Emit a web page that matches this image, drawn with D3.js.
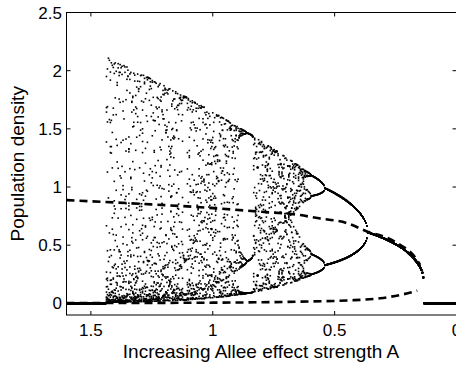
<!DOCTYPE html>
<html>
<head>
<meta charset="utf-8">
<script src="https://cdn.jsdelivr.net/npm/d3@7/dist/d3.min.js"></script>
<style>
  html, body { margin: 0; padding: 0; background: #fff; }
  svg { display: block; }
  text { font-family: "Liberation Sans", Arial, Helvetica, sans-serif; fill: #000; }
</style>
</head>
<body>
<svg id="chart" width="456" height="365"></svg>
<script>
// Axis ticks
const xTicks = [1.5, 1, 0.5, 0];
const yTicks = [0, 0.5, 1, 1.5, 2, 2.5];

// Ricker growth with a mate-finding Allee term:
//   N' = N * exp(r (1 - N)) * N / (N + theta),  theta = alleeScale / A^alleePower
const growthRate = 4.65;
const alleeScale = 1.19;
const alleePower = 0.958;
const aStart = 1.6, aEnd = 0.002, aStep = 0.004;
const transientSteps = 800;
const keptSteps = 13;
const startDensity = 0.4;

// Interior equilibrium (unstable over most of the range)
const upperEqA = [1.6, 1.3, 1.063, 0.8, 0.641, 0.571, 0.45, 0.362, 0.284, 0.231, 0.178, 0.149];
const upperEqN = [0.888, 0.856, 0.828, 0.787, 0.759, 0.733, 0.69, 0.614, 0.563, 0.503, 0.417, 0.33];

// Allee threshold
const thresholdA = [1.6, 1.0, 0.64, 0.45, 0.313, 0.231, 0.161];
const thresholdN = [0.003, 0.006, 0.015, 0.025, 0.044, 0.072, 0.109];

const svg = d3.select("#chart");
const plotLeft = 66.5, plotRight = 456.5, plotTop = 12.5, plotBottom = 315;

const x = d3.scaleLinear().domain([1.6, 0]).range([plotLeft, plotRight]);
const y = d3.scaleLinear().domain([-0.1, 2.5]).range([plotBottom, plotTop]);

// Orbit points for each value of A
const orbit = [];
for (let a = aStart; a >= aEnd; a -= aStep) {
  const theta = alleeScale / Math.pow(a, alleePower);
  let n = startDensity;
  const step = v => v * Math.exp(growthRate * (1 - v)) * v / (v + theta);
  for (let i = 0; i < transientSteps; i++) n = step(n);
  for (let i = 0; i < keptSteps; i++) {
    n = step(n);
    orbit.push({a: a, n: n});
  }
}

const plot = svg.append("g");
plot.append("clipPath").attr("id", "clip")
  .append("rect").attr("x", plotLeft).attr("y", plotTop)
  .attr("width", plotRight - plotLeft).attr("height", plotBottom - plotTop);

const marks = plot.append("g").attr("clip-path", "url(#clip)");

marks.selectAll("rect.dot").data(orbit).join("rect")
  .attr("class", "dot")
  .attr("x", d => x(d.a) - 0.8)
  .attr("y", d => y(d.n) - 0.8)
  .attr("width", 1.6).attr("height", 1.6)
  .attr("fill", "#000");

const line = d3.line().x(d => x(d[0])).y(d => y(d[1])).curve(d3.curveMonotoneX);

marks.append("path")
  .datum(upperEqA.map((a, i) => [a, upperEqN[i]]))
  .attr("d", line)
  .attr("fill", "none").attr("stroke", "#000")
  .attr("stroke-width", 2.6).attr("stroke-dasharray", "8,5");

marks.append("path")
  .datum(thresholdA.map((a, i) => [a, thresholdN[i]]))
  .attr("d", line)
  .attr("fill", "none").attr("stroke", "#000")
  .attr("stroke-width", 2.6).attr("stroke-dasharray", "8,5");

// Box with inward ticks
const axes = svg.append("g").attr("stroke", "#000").attr("stroke-width", 1).attr("fill", "none");
axes.append("rect").attr("x", plotLeft).attr("y", plotTop)
  .attr("width", plotRight - plotLeft).attr("height", plotBottom - plotTop);

const tickLen = 4;
xTicks.forEach(t => {
  const px = x(t);
  axes.append("line").attr("x1", px).attr("x2", px).attr("y1", plotBottom).attr("y2", plotBottom - tickLen);
  axes.append("line").attr("x1", px).attr("x2", px).attr("y1", plotTop).attr("y2", plotTop + tickLen);
});
yTicks.forEach(t => {
  const py = y(t);
  axes.append("line").attr("x1", plotLeft).attr("x2", plotLeft + tickLen).attr("y1", py).attr("y2", py);
  axes.append("line").attr("x1", plotRight).attr("x2", plotRight - tickLen).attr("y1", py).attr("y2", py);
});

const fmt = d3.format("~g");
svg.append("g").selectAll("text").data(xTicks).join("text")
  .attr("x", d => x(d)).attr("y", 336)
  .attr("text-anchor", "middle").attr("font-size", 17)
  .text(d => fmt(d));

svg.append("g").selectAll("text").data(yTicks).join("text")
  .attr("x", 62).attr("y", d => y(d)).attr("dy", "0.36em")
  .attr("text-anchor", "end").attr("font-size", 17)
  .text(d => fmt(d));

svg.append("text")
  .attr("x", 261).attr("y", 358)
  .attr("text-anchor", "middle").attr("font-size", 19)
  .text("Increasing Allee effect strength A");

svg.append("text")
  .attr("transform", `translate(24,${(plotTop + plotBottom) / 2}) rotate(-90)`)
  .attr("text-anchor", "middle").attr("font-size", 19)
  .text("Population density");
</script>
</body>
</html>
